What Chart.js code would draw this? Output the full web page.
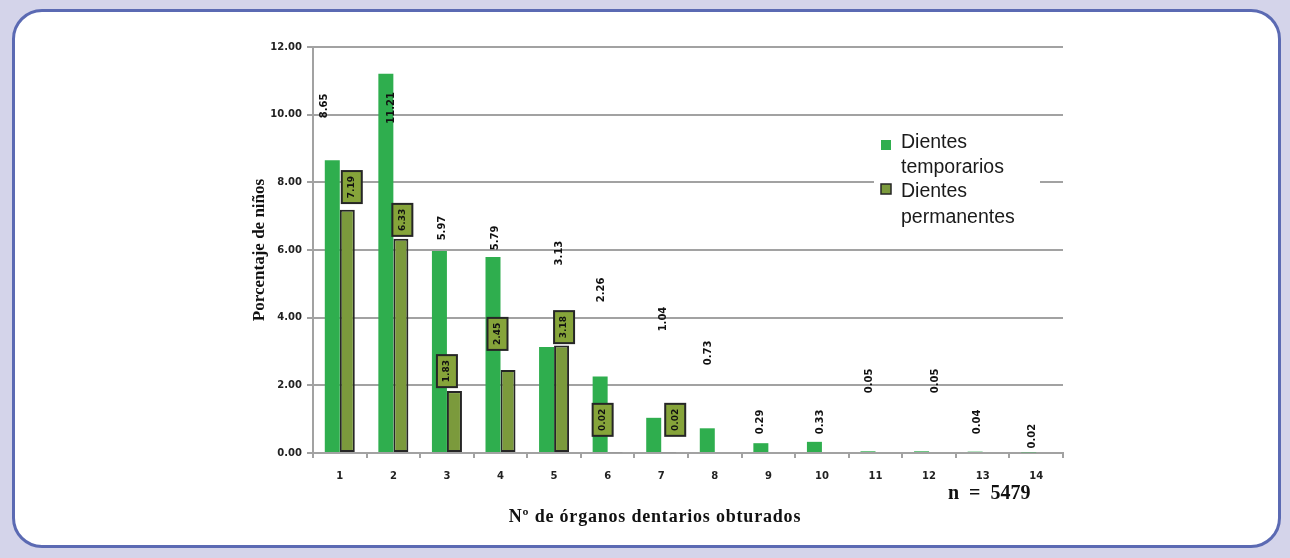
<!DOCTYPE html>
<html lang="es">
<head>
<meta charset="utf-8">
<title>Órganos dentarios obturados</title>
<script src="https://cdn.jsdelivr.net/npm/chart.js@4.4.1/dist/chart.umd.min.js"></script>
<style>
  html, body { margin: 0; padding: 0; background: #d4d4ea; }
  #frame {
    position: absolute; left: 12px; top: 9px; width: 1263px; height: 533px;
    background: #fff; border: 3px solid #5b6ab3; border-radius: 30px;
  }
  #wrap { position: absolute; left: 0; top: 0; width: 1290px; height: 558px; }
</style>
</head>
<body>
<div id="frame"></div>
<div id="wrap"><canvas id="dentChart" width="1290" height="558"></canvas></div>
<script>
const categorias = ['1', '2', '3', '4', '5', '6', '7', '8', '9', '10', '11', '12', '13', '14'];
const temporarios = [8.65, 11.21, 5.97, 5.79, 3.13, 2.26, 1.04, 0.73, 0.29, 0.33, 0.05, 0.05, 0.04, 0.02];
const permanentes = [7.19, 6.33, 1.83, 2.45, 3.18, 0.02, 0.02, 0, 0, 0, 0, 0, 0, 0];
const yTicks = [0, 2, 4, 6, 8, 10, 12];

// where each value label sits: x shift in px from the category centre, y in axis units
const etiqTemp = [[-15, 10.26], [-2, 10.2], [-5, 6.65], [-5, 6.36], [5, 5.91], [-6, 4.82], [2, 3.96],
                  [-6, 2.96], [-8, 0.92], [-2, 0.92], [-6, 2.13], [6, 2.13], [-5, 0.92], [-4, 0.5]];
const etiqPerm = [[12, 7.86], [9, 6.89], [0, 2.42], [-3, 3.52], [10, 3.72], [-5, 0.98], [14, 0.98]];

const VERDE = '#2fae4e';
const OLIVO = '#7b9a3c';
const GRIS = '#a2a2a2';

const textosPlugin = {
  id: 'textos',
  afterDatasetsDraw(chart) {
    const ctx = chart.ctx;
    const xs = chart.scales.x, ys = chart.scales.y;
    ctx.save();

    // value labels of the primary teeth, rotated
    ctx.fillStyle = '#111';
    ctx.font = 'bold 10px "DejaVu Sans"';
    ctx.textAlign = 'center';
    ctx.textBaseline = 'middle';
    temporarios.forEach((v, i) => {
      const x = xs.getPixelForValue(i) + etiqTemp[i][0];
      const y = ys.getPixelForValue(etiqTemp[i][1]);
      ctx.save();
      ctx.translate(x, y);
      ctx.rotate(-Math.PI / 2);
      ctx.fillText(v.toFixed(2), 0, 0);
      ctx.restore();
    });

    // boxed labels of the permanent teeth
    etiqPerm.forEach((p, i) => {
      const x = xs.getPixelForValue(i) + p[0];
      const y = ys.getPixelForValue(p[1]);
      ctx.save();
      ctx.translate(x, y);
      ctx.fillStyle = '#86a43a';
      ctx.strokeStyle = '#262626';
      ctx.lineWidth = 2;
      ctx.fillRect(-10, -16, 20, 32);
      ctx.strokeRect(-10, -16, 20, 32);
      ctx.rotate(-Math.PI / 2);
      ctx.fillStyle = '#111';
      ctx.font = 'bold 9px "DejaVu Sans"';
      ctx.fillText(permanentes[i].toFixed(2), 0, 0);
      ctx.restore();
    });

    // legend
    ctx.fillStyle = '#fff';
    ctx.fillRect(874, 132, 166, 98);
    ctx.fillStyle = VERDE;
    ctx.fillRect(881, 140, 10, 10);
    ctx.fillStyle = OLIVO;
    ctx.fillRect(881, 184, 10, 10);
    ctx.strokeStyle = '#262626';
    ctx.lineWidth = 1.5;
    ctx.strokeRect(881, 184, 10, 10);
    ctx.fillStyle = '#1a1a1a';
    ctx.font = '19.5px "Liberation Sans"';
    ctx.textAlign = 'left';
    ctx.fillText('Dientes', 901, 143);
    ctx.fillText('temporarios', 901, 168);
    ctx.fillText('Dientes', 901, 192);
    ctx.fillText('permanentes', 901, 218);

    // axis titles and sample size
    ctx.fillStyle = '#111';
    ctx.textAlign = 'center';
    ctx.font = 'bold 18px "Liberation Serif"';
    ctx.letterSpacing = '0.8px';
    ctx.fillText('Nº de órganos dentarios obturados', 655, 517);
    ctx.letterSpacing = '0px';
    ctx.font = 'bold 17px "Liberation Serif"';
    ctx.save();
    ctx.translate(260, 250);
    ctx.rotate(-Math.PI / 2);
    ctx.fillText('Porcentaje de niños', 0, 0);
    ctx.restore();
    ctx.font = 'bold 20px "Liberation Serif"';
    ctx.textAlign = 'left';
    ctx.fillText('n  =  5479', 948, 494);

    ctx.restore();
  }
};

new Chart(document.getElementById('dentChart'), {
  type: 'bar',
  data: {
    labels: categorias,
    datasets: [
      {
        label: 'Dientes temporarios',
        data: temporarios,
        backgroundColor: VERDE,
        borderWidth: 0,
        categoryPercentage: 0.56,
        barPercentage: 1
      },
      {
        label: 'Dientes permanentes',
        data: permanentes,
        backgroundColor: OLIVO,
        borderColor: '#262626',
        borderWidth: 2,
        borderSkipped: false,
        categoryPercentage: 0.56,
        barPercentage: 1
      }
    ]
  },
  options: {
    responsive: false,
    devicePixelRatio: 1,
    animation: false,
    layout: { padding: { top: 47, right: 227, bottom: 0, left: 0 } },
    plugins: { legend: { display: false }, tooltip: { enabled: false } },
    scales: {
      x: {
        afterFit(scale) { scale.height = 105; },
        grid: { offset: true, drawOnChartArea: false, color: GRIS, lineWidth: 2, tickLength: 5 },
        border: { color: GRIS, width: 2 },
        ticks: { color: '#222', font: { family: 'DejaVu Sans', weight: 'bold', size: 10 }, padding: 12 }
      },
      y: {
        min: 0,
        max: 12,
        afterFit(scale) { scale.width = 313; },
        afterBuildTicks(scale) { scale.ticks = yTicks.map(v => ({ value: v })); },
        grid: { color: GRIS, lineWidth: 2, tickLength: 6 },
        border: { color: GRIS, width: 2 },
        ticks: {
          color: '#222',
          font: { family: 'DejaVu Sans', weight: 'bold', size: 10 },
          padding: 5,
          callback: v => v.toFixed(2)
        }
      }
    }
  },
  plugins: [textosPlugin]
});
</script>
</body>
</html>
